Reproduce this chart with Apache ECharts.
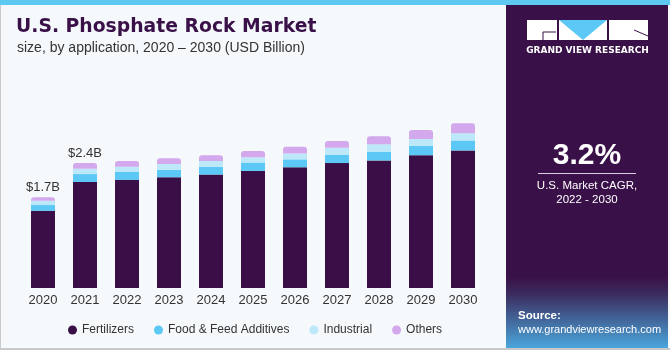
<!DOCTYPE html>
<html>
<head>
<meta charset="utf-8">
<script src="https://cdn.jsdelivr.net/npm/echarts@6/dist/echarts.min.js"></script>
<style>
  html, body { margin: 0; padding: 0; background: #f5f9fc; }
  #chart { width: 670px; height: 350px; }
</style>
</head>
<body>
<div id="chart"></div>
<script>
// years on the x axis
const years = ['2020', '2021', '2022', '2023', '2024', '2025', '2026', '2027', '2028', '2029', '2030'];
// USD billion
const fertilizers = [1.47, 2.02, 2.06, 2.11, 2.16, 2.23, 2.30, 2.38, 2.43, 2.53, 2.62];
const foodFeed    = [0.11, 0.15, 0.15, 0.14, 0.15, 0.16, 0.15, 0.16, 0.16, 0.18, 0.19];
const industrial  = [0.08, 0.10, 0.10, 0.11, 0.11, 0.10, 0.11, 0.13, 0.15, 0.13, 0.14];
const others      = [0.07, 0.11, 0.11, 0.11, 0.11, 0.12, 0.13, 0.13, 0.15, 0.17, 0.19];
// labels printed above the first two bars
const topLabels = ['$1.7B', '$2.4B'];

const chart = echarts.init(document.getElementById('chart'));
const font = 'Liberation Sans, Arial, sans-serif';
const wide = 'DejaVu Sans, sans-serif';

const option = {
  backgroundColor: '#f5f9fc',
  textStyle: { fontFamily: font },
  animation: false,
  title: [
    {
      text: 'U.S. Phosphate Rock Market',
      left: 16, top: 18, padding: 0,
      textStyle: { fontSize: 18.8, fontWeight: 'bold', color: '#3a1048', fontFamily: wide }
    },
    {
      text: 'size, by application, 2020 \u2013 2030 (USD Billion)',
      left: 17, top: 41, padding: 0,
      textStyle: { fontSize: 14, fontWeight: 'normal', color: '#333', fontFamily: font }
    }
  ],
  legend: {
    left: 63, top: 319,
    icon: 'circle',
    itemWidth: 9, itemHeight: 9, itemGap: 20,
    textStyle: { fontSize: 12, color: '#333', fontFamily: font },
    data: ['Fertilizers', 'Food & Feed Additives', 'Industrial', 'Others']
  },
  grid: { left: 22, right: 186, top: 78, bottom: 62 },
  xAxis: {
    type: 'category',
    data: years,
    axisLine: { show: false },
    axisTick: { show: false },
    axisLabel: { color: '#333', fontSize: 13, margin: 6 }
  },
  yAxis: { type: 'value', min: 0, max: 4, show: false, splitLine: { show: false } },
  series: [
    { name: 'Fertilizers', type: 'bar', stack: 'a', barWidth: 24, data: fertilizers,
      itemStyle: { color: '#3a0f47' } },
    { name: 'Food & Feed Additives', type: 'bar', stack: 'a', data: foodFeed,
      itemStyle: { color: '#5bc8f5' } },
    { name: 'Industrial', type: 'bar', stack: 'a', data: industrial,
      itemStyle: { color: '#bde8fa' } },
    { name: 'Others', type: 'bar', stack: 'a',
      data: others.map((v, i) => ({
        value: v,
        label: { show: i < topLabels.length }
      })),
      itemStyle: { color: '#d3a8ec', borderRadius: [3, 3, 0, 0] },
      label: {
        position: 'top', distance: 3, color: '#333', fontSize: 13,
        formatter: p => topLabels[p.dataIndex] || ''
      } }
  ],
  graphic: [
    // top stripe and borders
    { type: 'rect', shape: { x: 0, y: 0, width: 670, height: 5 }, style: { fill: '#5ec9f0' } },
    { type: 'rect', shape: { x: 0, y: 5, width: 1, height: 345 }, style: { fill: '#c9c9c9' } },
    { type: 'rect', shape: { x: 0, y: 348, width: 670, height: 2 }, style: { fill: '#c9c9c9' } },
    // right panel
    { type: 'rect', shape: { x: 506, y: 5, width: 162, height: 343 },
      style: { fill: new echarts.graphic.LinearGradient(0, 0, 0, 1, [
        { offset: 0, color: '#3a1048' },
        { offset: 0.79, color: '#3a1048' },
        { offset: 0.84, color: '#3b2a5c' },
        { offset: 1, color: '#4aa6dc' }
      ]) } },
    // logo
    { type: 'rect', shape: { x: 527, y: 20, width: 121, height: 20 }, style: { fill: '#ffffff' } },
    { type: 'polygon', shape: { points: [[559, 20], [607, 20], [583, 40]] }, style: { fill: '#5bc8f5' } },
    { type: 'rect', shape: { x: 557, y: 20, width: 2, height: 20 }, style: { fill: '#3a1048' } },
    { type: 'rect', shape: { x: 607, y: 20, width: 2, height: 20 }, style: { fill: '#3a1048' } },
    { type: 'polyline', shape: { points: [[543, 40], [543, 32], [556, 32]] },
      style: { stroke: '#3a1048', lineWidth: 1, fill: null } },
    { type: 'line', shape: { x1: 634, y1: 30, x2: 648, y2: 36 },
      style: { stroke: '#3a1048', lineWidth: 1 } },
    { type: 'text', x: 587.5, y: 51,
      style: { text: 'GRAND VIEW RESEARCH', fill: '#ffffff', font: 'bold 9px ' + wide, textAlign: 'center', textVerticalAlign: 'middle' } },
    // CAGR
    { type: 'text', x: 587, y: 156,
      style: { text: '3.2%', fill: '#ffffff', font: 'bold 30px ' + font, textAlign: 'center', textVerticalAlign: 'middle' } },
    { type: 'rect', shape: { x: 538, y: 173, width: 98, height: 1 }, style: { fill: '#d8cce0' } },
    { type: 'text', x: 587, y: 186,
      style: { text: 'U.S. Market CAGR,', fill: '#ffffff', font: '11.5px ' + font, textAlign: 'center', textVerticalAlign: 'middle' } },
    { type: 'text', x: 587, y: 200,
      style: { text: '2022 - 2030', fill: '#ffffff', font: '11.5px ' + font, textAlign: 'center', textVerticalAlign: 'middle' } },
    // source
    { type: 'text', x: 518, y: 316,
      style: { text: 'Source:', fill: '#ffffff', font: 'bold 11.5px ' + font, textVerticalAlign: 'middle' } },
    { type: 'text', x: 518, y: 330,
      style: { text: 'www.grandviewresearch.com', fill: '#ffffff', font: '11px ' + font, textVerticalAlign: 'middle' } }
  ]
};

chart.setOption(option);
</script>
</body>
</html>
